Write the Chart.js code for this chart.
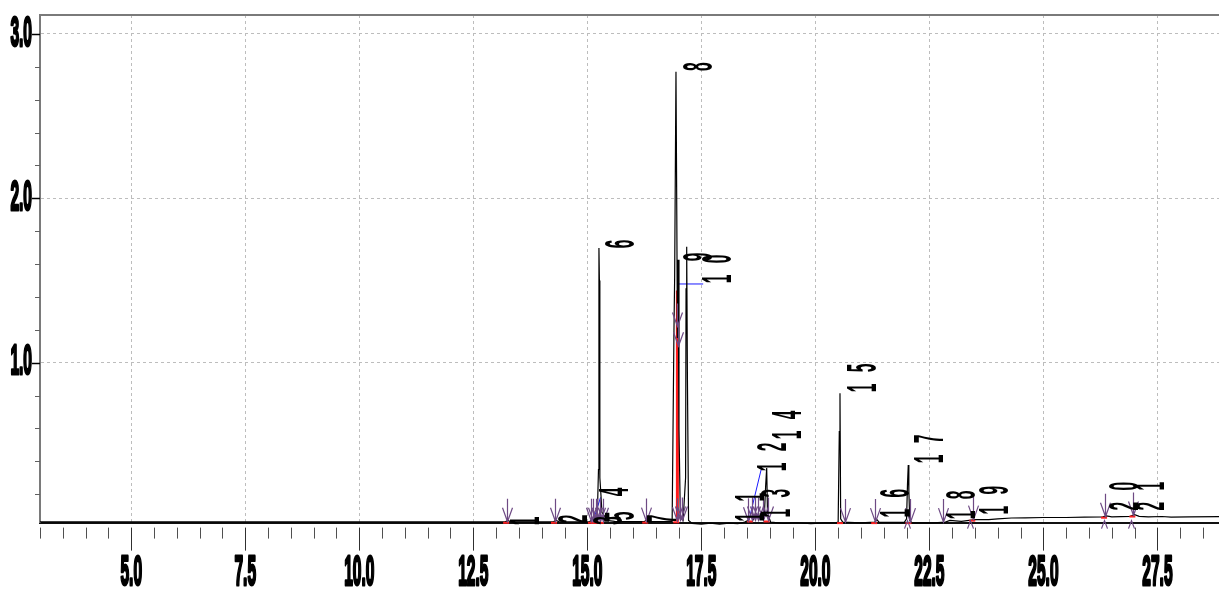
<!DOCTYPE html>
<html><head><meta charset="utf-8">
<script src="https://cdn.jsdelivr.net/npm/chart.js@4.4.1/dist/chart.umd.min.js"></script>
<style>html,body{margin:0;padding:0;background:#fff;}#wrap{width:1219px;height:590px;position:relative;}</style>
</head><body><div id="wrap"><canvas id="c"></canvas></div>
<script>
// ---- data (retention time in min, detector signal) ----
const traceTimes = [3.0,13.20,13.26,13.32,14.26,14.31,14.38,15.05,15.10,15.14,15.18,15.22,15.245,15.255,15.265,15.275,15.30,15.32,15.37,15.42,15.60,16.25,16.30,16.36,16.86,16.90,16.915,16.944,16.962,16.975,16.99,17.01,17.04,17.10,17.155,17.165,17.179,17.195,17.22,17.30,17.5,17.7,17.9,18.1,18.3,18.45,18.52,18.58,18.64,18.70,18.76,18.82,18.88,18.91,18.933,18.95,18.97,19.02,19.3,19.6,19.9,20.2,20.45,20.50,20.525,20.54,20.555,20.60,21.0,21.30,21.35,21.40,21.95,22.00,22.02,22.037,22.05,22.07,22.12,22.6,22.85,22.95,23.2,23.5,23.8,24.0,24.3,24.6,25.0,25.5,25.9,26.3,26.38,26.5,26.9,27.0,27.1,27.3,27.6,27.8,28.2,28.85];
const traceValues = [0.032,0.032,0.040,0.032,0.032,0.042,0.032,0.032,0.045,0.060,0.050,0.080,0.35,1.698,1.50,0.30,0.19,0.09,0.07,0.04,0.035,0.033,0.045,0.033,0.035,1.20,1.52,2.770,1.90,1.15,1.627,0.60,0.06,0.04,0.30,1.45,1.706,0.90,0.04,0.022,0.018,0.024,0.018,0.024,0.020,0.030,0.040,0.070,0.045,0.080,0.050,0.090,0.060,0.25,0.359,0.10,0.07,0.03,0.022,0.026,0.020,0.025,0.025,0.030,0.58,0.814,0.05,0.030,0.025,0.030,0.045,0.028,0.028,0.05,0.26,0.377,0.22,0.04,0.025,0.025,0.030,0.040,0.035,0.045,0.045,0.050,0.055,0.056,0.058,0.058,0.060,0.062,0.068,0.062,0.065,0.075,0.065,0.062,0.064,0.060,0.062,0.063];

const xTickValues = [5.0,7.5,10.0,12.5,15.0,17.5,20.0,22.5,25.0,27.5];
const xTickLabels = ['5.0','7.5','10.0','12.5','15.0','17.5','20.0','22.5','25.0','27.5'];
const yTickValues = [1.0,2.0,3.0];
const yTickLabels = ['1.0','2.0','3.0'];

const peakLabels      = ['1','2','3','4','5','6','7','8','9','10','11','12','13','14','15','16','17','18','19','20','21'];
const peakLabelTimes  = [13.69,14.73,15.50,15.63,15.76,15.78,16.70,17.47,17.47,17.89,18.62,19.11,19.20,19.44,21.07,21.81,22.54,23.24,23.98,26.81,27.40];
const peakLabelValues = [0.037,0.049,0.040,0.213,0.068,1.722,0.049,2.801,1.643,1.509,0.060,0.365,0.085,0.560,0.846,0.085,0.414,0.073,0.103,0.127,0.127];

const markerTimes  = [13.24,14.29,15.07,15.13,15.18,15.21,15.28,15.35,16.29,16.97,17.04,17.08,16.965,16.985,18.53,18.61,18.68,18.75,18.86,18.97,20.65,21.31,22.08,22.80,23.46,26.35,26.97];
const markerValues = [0.032,0.032,0.032,0.032,0.032,0.032,0.032,0.032,0.033,0.035,0.04,0.04,1.22,1.10,0.035,0.04,0.04,0.04,0.04,0.04,0.03,0.03,0.03,0.03,0.045,0.063,0.07];
const endMarkerTimes = [22.00,23.40,26.33,26.93];

const redMarkTimes  = [13.22,14.27,15.08,15.15,15.22,15.30,16.27,16.95,18.57,18.93,20.54,21.29,22.04,23.44,26.33,26.95];
const redMarkValues = [0.032,0.032,0.032,0.032,0.032,0.032,0.033,0.035,0.04,0.04,0.03,0.03,0.03,0.045,0.063,0.07];

const dropTimes  = [16.975,16.975];
const dropValues = [0.035,1.44];
const blueLineA = {t:[15.12,15.29], v:[0.03,0.18]};
const blueLineB = {t:[18.545,18.81], v:[0.043,0.348]};
const blueLineC = {t:[16.99,17.54], v:[1.479,1.479]};

const X_MIN = 3.0, X_MAX = 28.85, Y_MIN = 0.027, Y_MAX = 3.1156;

function pts(ts, vs){ return ts.map((t,i)=>({x:t,y:vs[i]})); }

const FONT = 'bold 42px "Liberation Sans", Arial, sans-serif';
const SQUEEZE = 0.37;
function condensedText(ctx, text, x, y, align, rotate, heavy){
  ctx.save();
  ctx.translate(x, y);
  if (rotate) ctx.rotate(-Math.PI/2);
  ctx.scale(SQUEEZE, 1);
  ctx.font = FONT;
  ctx.fillStyle = '#000';
  ctx.textAlign = align;
  ctx.textBaseline = 'middle';
  if (heavy){
    ctx.strokeStyle = '#000';
    ctx.lineWidth = 3;
    ctx.lineJoin = 'round';
    ctx.strokeText(text, 0, 0);
  }
  ctx.fillText(text, 0, 0);
  ctx.restore();
}

const decorPlugin = {
  id: 'decor',
  afterDatasetsDraw(chart){
    const ctx = chart.ctx, xs = chart.scales.x, ys = chart.scales.y;
    ctx.save();
    ctx.strokeStyle = '#ff2020'; ctx.lineWidth = 2;
    redMarkTimes.forEach((t,i)=>{
      const px = xs.getPixelForValue(t), py = ys.getPixelForValue(redMarkValues[i]);
      ctx.beginPath(); ctx.moveTo(px-3, py+1); ctx.lineTo(px+3, py+1); ctx.stroke();
    });
    ctx.strokeStyle = '#6e4a84'; ctx.lineWidth = 1.2;
    markerTimes.forEach((t,i)=>{
      const px = Math.round(xs.getPixelForValue(t))+0.5, py = ys.getPixelForValue(markerValues[i]);
      ctx.beginPath();
      ctx.moveTo(px, py-23); ctx.lineTo(px, py);
      ctx.moveTo(px-5, py-14); ctx.lineTo(px, py); ctx.lineTo(px+5, py-14);
      ctx.stroke();
    });
    const by = chart.chartArea.bottom;
    endMarkerTimes.forEach((t)=>{
      const px = Math.round(xs.getPixelForValue(t))+0.5;
      ctx.beginPath();
      ctx.moveTo(px-3, by+6); ctx.lineTo(px, by-2); ctx.lineTo(px+3, by+6);
      ctx.stroke();
    });
    ctx.restore();
    peakLabels.forEach((lab,i)=>{
      const px = xs.getPixelForValue(peakLabelTimes[i]);
      const py = ys.getPixelForValue(peakLabelValues[i]);
      for (let k=0;k<lab.length;k++){
        condensedText(ctx, lab[k], px, py - k*20, 'center', true, false);
      }
    });
  },
  afterDraw(chart){
    const ctx = chart.ctx, xs = chart.scales.x, ys = chart.scales.y, a = chart.chartArea;
    ctx.save();
    ctx.strokeStyle = '#7a7a7a'; ctx.lineWidth = 2;
    ctx.beginPath(); ctx.moveTo(a.left, a.top); ctx.lineTo(a.right, a.top); ctx.stroke();
    ctx.lineWidth = 1;
    for (let t = 3.0; t <= X_MAX + 1e-9; t += 0.5){
      const px = Math.round(xs.getPixelForValue(t)) + 0.5;
      const major = Math.abs(t/2.5 - Math.round(t/2.5)) < 1e-6;
      ctx.strokeStyle = major ? '#303030' : '#505050';
      ctx.beginPath(); ctx.moveTo(px, a.bottom + 5); ctx.lineTo(px, a.bottom + (major ? 28 : 16)); ctx.stroke();
    }
    for (let k = 1; k <= 15; k++){
      const v = k*0.2;
      const py = Math.round(ys.getPixelForValue(v)) + 0.5;
      const major = k % 5 === 0;
      ctx.strokeStyle = major ? '#000' : '#606060';
      ctx.lineWidth = major ? 1.5 : 1;
      ctx.beginPath(); ctx.moveTo(a.left - (major ? 8 : 5), py); ctx.lineTo(a.left, py); ctx.stroke();
    }
    ctx.restore();
    xTickValues.forEach((t,i)=>{
      condensedText(ctx, xTickLabels[i], xs.getPixelForValue(t), a.bottom + 51, 'center', false, true);
    });
    yTickValues.forEach((v,i)=>{
      condensedText(ctx, yTickLabels[i], a.left - 8, ys.getPixelForValue(v), 'right', false, true);
    });
  }
};

new Chart(document.getElementById('c'), {
  type: 'scatter',
  data: {
    datasets: [
      {label:'trace', data: pts(traceTimes, traceValues), showLine:true, borderColor:'#000', borderWidth:1.2, pointRadius:0, tension:0, clip:4},
      {label:'blueA', data: pts(blueLineA.t, blueLineA.v), showLine:true, borderColor:'#1a1aff', borderWidth:1, pointRadius:0},
      {label:'blueB', data: pts(blueLineB.t, blueLineB.v), showLine:true, borderColor:'#1a1aff', borderWidth:1, pointRadius:0},
      {label:'blueC', data: pts(blueLineC.t, blueLineC.v), showLine:true, borderColor:'#1a1aff', borderWidth:1, pointRadius:0},
      {label:'drop', data: pts(dropTimes, dropValues), showLine:true, borderColor:'#ff1a1a', borderWidth:3, pointRadius:0}
    ]
  },
  options: {
    responsive: true, maintainAspectRatio: false, animation: false,
    layout: { padding: {left:40, top:15, right:0, bottom:67.4}, autoPadding:false },
    plugins: { legend:{display:false}, tooltip:{enabled:false} },
    events: [],
    scales: {
      x: {
        type:'linear', min:X_MIN, max:X_MAX,
        ticks:{display:false, stepSize:2.5},
        grid:{drawTicks:false, lineWidth:1, color:(c)=> (c.tick && Math.abs(c.tick.value/2.5 - Math.round(c.tick.value/2.5))<1e-6) ? '#bdbdbd' : 'rgba(0,0,0,0)'},
        border:{display:true, color:'#111', width:2, dash:[3,3]}
      },
      y: {
        type:'linear', min:Y_MIN, max:Y_MAX,
        ticks:{display:false, stepSize:1},
        grid:{drawTicks:false, lineWidth:1, color:(c)=> (c.tick && Math.abs(c.tick.value - Math.round(c.tick.value))<1e-6 && c.tick.value>0.5) ? '#bdbdbd' : 'rgba(0,0,0,0)'},
        border:{display:true, color:'#7a7a7a', width:2, dash:[3,3]}
      }
    }
  },
  plugins: [decorPlugin]
});
</script></body></html>
